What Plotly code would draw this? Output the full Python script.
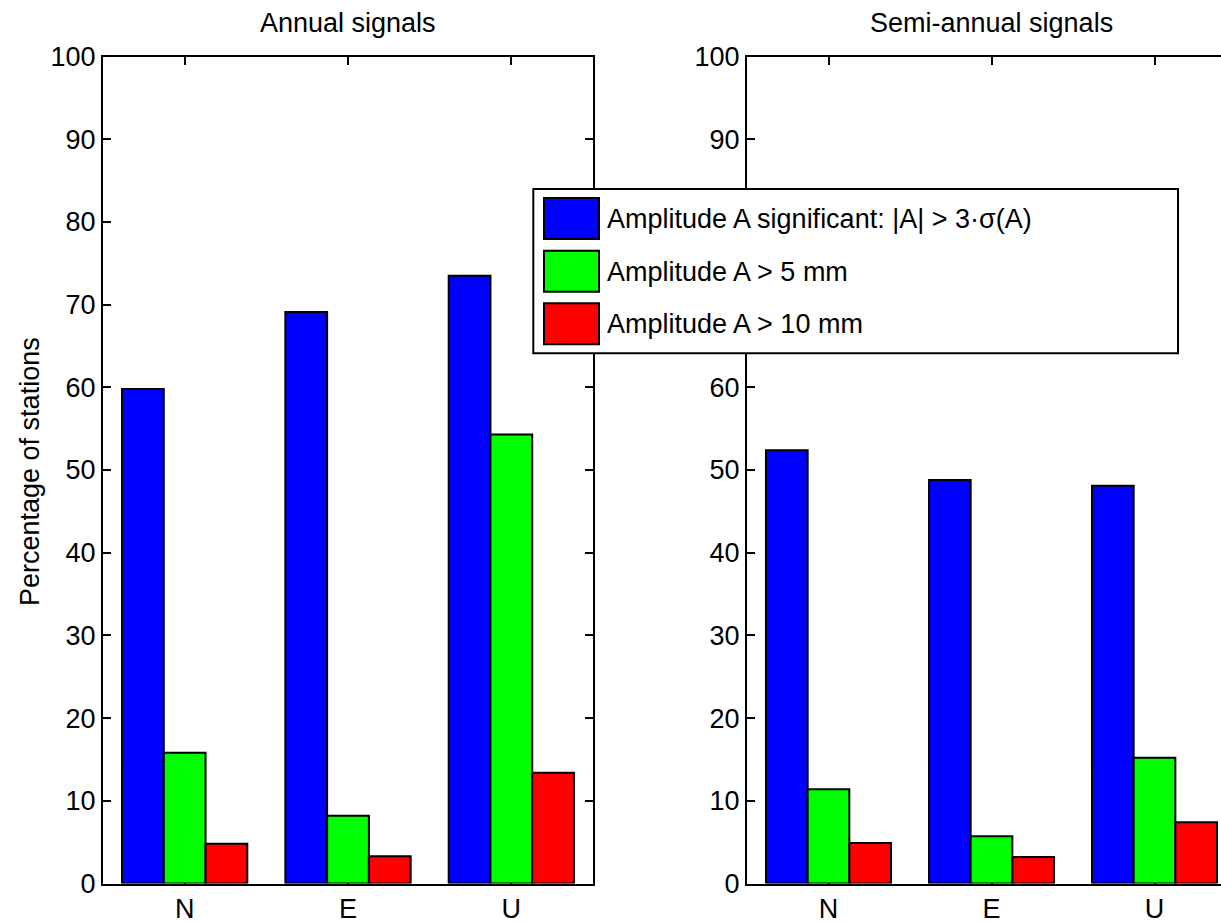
import plotly.graph_objects as go

# ---- data ----
categories = ["N", "E", "U"]
series_names = [
    "Amplitude A significant: |A| > 3·σ(A)",
    "Amplitude A > 5 mm",
    "Amplitude A > 10 mm",
]
series_colors = ["#0000FF", "#00FF00", "#FF0000"]
annual_values = [
    [59.8, 69.1, 73.5],
    [15.8, 8.2, 54.3],
    [4.8, 3.3, 13.4],
]
semiannual_values = [
    [52.4, 48.8, 48.1],
    [11.4, 5.7, 15.2],
    [4.9, 3.2, 7.4],
]
panel_titles = ["Annual signals", "Semi-annual signals"]
y_label = "Percentage of stations"
y_ticks = list(range(0, 101, 10))
y_ticktext_left = [str(t) for t in y_ticks]
# on the right panel the 70 and 80 labels sit under the legend box
y_ticktext_right = ["" if t in (70, 80) else str(t) for t in y_ticks]

W, H = 1221, 923
FONT = "Liberation Sans, Arial, Helvetica, sans-serif"
FS = 27

def px(x):
    return x / W

def py(y):
    return 1 - y / H

fig = go.Figure()
for vals, xa, ya in [(annual_values, "x", "y"), (semiannual_values, "x2", "y2")]:
    for name, col, v in zip(series_names, series_colors, vals):
        fig.add_trace(go.Bar(
            x=categories, y=v, name=name,
            marker=dict(color=col, line=dict(color="black", width=2)),
            xaxis=xa, yaxis=ya, showlegend=False,
        ))

ydom = [py(883.5), py(56.5)]
axis_common = dict(
    showline=True, linecolor="black", linewidth=2, ticks="inside", ticklen=8, tickwidth=2,
    tickcolor="black", showgrid=False, zeroline=False, automargin=False,
    tickfont=dict(family=FONT, size=FS, color="black"),
)
fig.update_layout(
    template="none",
    width=W, height=H, margin=dict(l=0, r=0, t=0, b=0, pad=0),
    paper_bgcolor="white", plot_bgcolor="white",
    barmode="group", bargap=0.233, bargroupgap=0,
    font=dict(family=FONT, size=FS, color="black"),
    xaxis=dict(domain=[px(103), px(593)], range=[-0.5, 2.5], anchor="y", mirror="ticks",
               layer="below traces", type="category", **axis_common),
    yaxis=dict(domain=ydom, range=[0, 100], tickvals=y_ticks, ticktext=y_ticktext_left,
               anchor="x", mirror="ticks", **axis_common),
    xaxis2=dict(domain=[px(747), 1.0], range=[-0.5, -0.5 + (W - 747) / 163.0], anchor="y2",
                mirror="ticks", layer="below traces", type="category", **axis_common),
    yaxis2=dict(domain=ydom, range=[0, 100], tickvals=y_ticks, ticktext=y_ticktext_right,
                anchor="x2", mirror=False, **axis_common),
)

annotations = []
for title, cx in zip(panel_titles, [(103 + 593) / 2, (747 + 1236) / 2]):
    annotations.append(dict(text=title, x=px(cx), y=py(23), xref="paper", yref="paper",
                            xanchor="center", yanchor="middle", showarrow=False,
                            font=dict(family=FONT, size=FS, color="black")))
annotations.append(dict(text=y_label, x=px(30), y=py(472), xref="paper", yref="paper",
                        xanchor="center", yanchor="middle", textangle=-90, showarrow=False,
                        font=dict(family=FONT, size=FS, color="black")))

# ---- legend (drawn manually to mimic square swatches) ----
shapes = [dict(type="rect", xref="paper", yref="paper", x0=px(533.3), x1=px(1178),
               y0=py(353.3), y1=py(189), line=dict(color="black", width=2), fillcolor="white",
               layer="above")]
sw_tops = [198, 250.7, 303.3]
for name, col, top in zip(series_names, series_colors, sw_tops):
    shapes.append(dict(type="rect", xref="paper", yref="paper", x0=px(544), x1=px(599),
                       y0=py(top + 41), y1=py(top), line=dict(color="black", width=2),
                       fillcolor=col, layer="above"))
    annotations.append(dict(text=name, x=px(605), y=py(top + 21), xref="paper", yref="paper",
                            xanchor="left", yanchor="middle", showarrow=False,
                            font=dict(family=FONT, size=FS, color="black")))

fig.update_layout(shapes=shapes, annotations=annotations)
fig.write_html("out.html", config={"displayModeBar": False})
